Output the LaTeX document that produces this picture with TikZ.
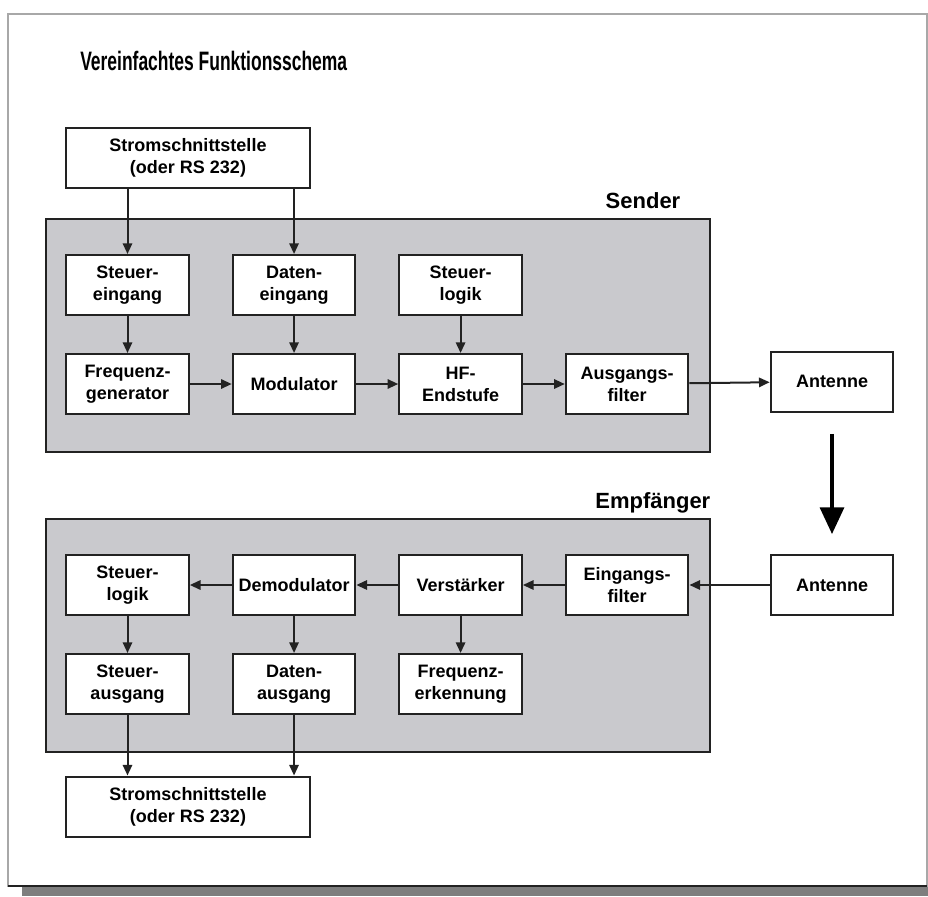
\documentclass[tikz,border=0pt]{standalone}
\usepackage{fontspec}
\setmainfont{Liberation Sans}
\usepackage{graphicx}
\usetikzlibrary{arrows.meta, positioning}
\definecolor{frameGray}{HTML}{A8A8A8}
\definecolor{shadowGray}{HTML}{7E7E7E}
\definecolor{panelGray}{HTML}{C9C9CD}
\definecolor{lineDark}{HTML}{222222}
\tikzset{
  arrowK/.style={-{Triangle[length=8pt, width=7pt]}, draw=lineDark, line width=1.5pt},
  arrowBig/.style={-{Triangle[length=20pt, width=18pt]}, draw=black, line width=2.4pt},
  boxW/.style={rectangle, draw=lineDark, fill=white, line width=1.5pt,
               align=center, font=\fontsize{13.5}{16.5}\selectfont\bfseries,
               minimum width=92pt, minimum height=45pt, inner sep=2pt},
  boxWide/.style={boxW, minimum width=183pt},
  panel/.style={draw=lineDark, fill=panelGray, line width=1.5pt},
  groupLabel/.style={font=\fontsize{16.5}{20}\selectfont\bfseries, anchor=base east},
}
\begin{document}
\begin{tikzpicture}[x=0.75pt, y=-0.75pt, node distance=27.75pt and 31.4pt]
    \useasboundingbox (0,0) rectangle (928,896);
    % frame with shadow
    \fill[shadowGray] (22,886) rectangle (928,896);
    \draw[frameGray, line width=1.2pt, fill=white] (8,14) rectangle (927,886);
    \draw[lineDark, line width=1.4pt] (8,886) -- (927,886);
    \node[anchor=base west, inner sep=0pt, font=\fontsize{20}{24}\selectfont\bfseries]
      (title) at (80,70) {\scalebox{0.655}[1]{Vereinfachtes Funktionsschema}};

    % Sender
    \draw[panel] (46,219) rectangle (710,452);
    \node[groupLabel] (senderLbl) at (685,208) {Sender};
    \node[boxWide] (stromIn) at (188,158) {Stromschnittstelle\\(oder RS 232)};
    \node[boxW] (steuerEin) at (127.5,285) {Steuer-\\eingang};
    \node[boxW, right=of steuerEin] (datenEin) {Daten-\\eingang};
    \node[boxW, right=of datenEin]  (steuerLogS) {Steuer-\\logik};
    \node[boxW, below=of steuerEin] (freqGen) {Frequenz-\\generator};
    \node[boxW, right=of freqGen]   (modulator) {Modulator};
    \node[boxW, right=of modulator] (hfEnd) {HF-\\Endstufe};
    \node[boxW, right=of hfEnd]     (ausFilter) {Ausgangs-\\filter};
    \node[boxW] (antSend) at (832,381.5) {Antenne};
    \draw[arrowK] (stromIn.south -| steuerEin.north) -- (steuerEin.north);
    \draw[arrowK] (stromIn.south -| datenEin.north) -- (datenEin.north);
    \draw[arrowK] (steuerEin) -- (freqGen); \draw[arrowK] (datenEin) -- (modulator);
    \draw[arrowK] (steuerLogS) -- (hfEnd);
    \draw[arrowK] (freqGen) -- (modulator); \draw[arrowK] (modulator) -- (hfEnd);
    \draw[arrowK] (hfEnd) -- (ausFilter); \draw[arrowK] (ausFilter) -- (antSend);

    % Empfaenger
    \draw[panel] (46,519) rectangle (710,752);
    \node[groupLabel] (empfLbl) at (715,508) {Empfänger};
    \node[boxW] (steuerLogE) at (127.5,585) {Steuer-\\logik};
    \node[boxW, right=of steuerLogE] (demod) {Demodulator};
    \node[boxW, right=of demod]      (verst) {Verstärker};
    \node[boxW, right=of verst]      (einFilter) {Eingangs-\\filter};
    \node[boxW, below=of steuerLogE] (steuerAus) {Steuer-\\ausgang};
    \node[boxW, below=of demod]      (datenAus) {Daten-\\ausgang};
    \node[boxW, below=of verst]      (freqErk) {Frequenz-\\erkennung};
    \node[boxW] (antEmpf) at (832,585) {Antenne};
    \node[boxWide] (stromOut) at (188,806.5) {Stromschnittstelle\\(oder RS 232)};
    \draw[arrowK] (antEmpf) -- (einFilter); \draw[arrowK] (einFilter) -- (verst);
    \draw[arrowK] (verst) -- (demod); \draw[arrowK] (demod) -- (steuerLogE);
    \draw[arrowK] (verst) -- (freqErk);
    \draw[arrowK] (steuerLogE) -- (steuerAus); \draw[arrowK] (demod) -- (datenAus);
    \draw[arrowK] (steuerAus.south) -- (steuerAus.south |- stromOut.north);
    \draw[arrowK] (datenAus.south) -- (datenAus.south |- stromOut.north);

    % funk strecke
    \draw[arrowBig, shorten <=16pt, shorten >=15pt] (antSend) -- (antEmpf);
  \end{tikzpicture}
\end{document}
